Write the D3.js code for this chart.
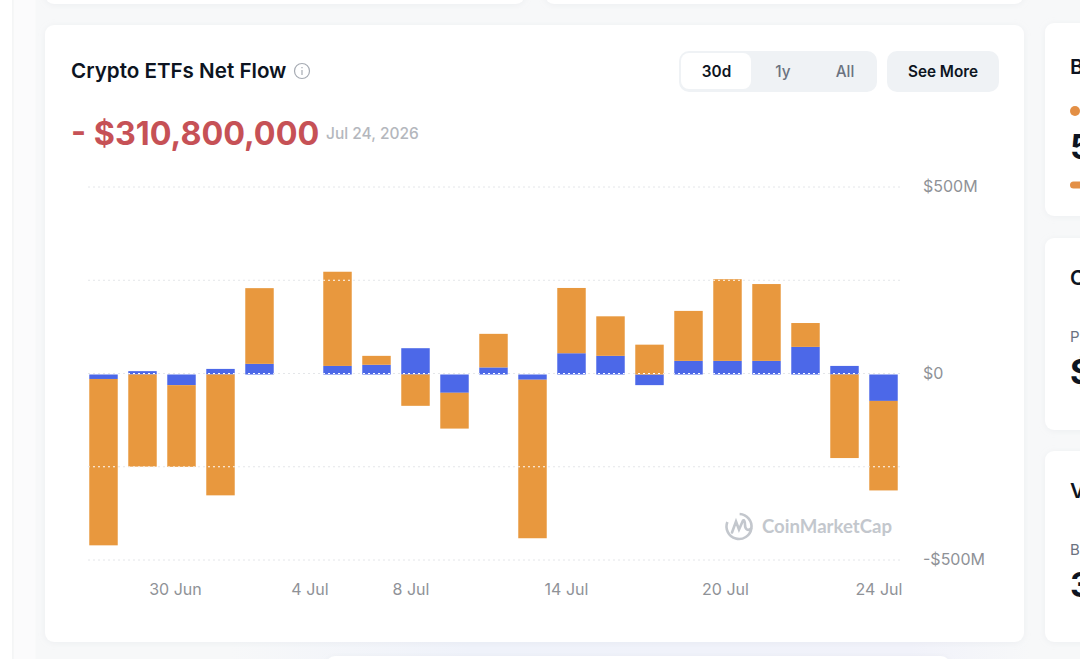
<!DOCTYPE html>
<html>
<head>
<meta charset="utf-8">
<script src="https://cdn.jsdelivr.net/npm/d3@7"></script>
<style>
  html, body { margin: 0; padding: 0; background: #f7f8f9; overflow: hidden; }
  svg { display: block; font-family: Inter, "Noto Sans", sans-serif; }
</style>
</head>
<body>
<svg id="page" width="1080" height="659"></svg>
<script>
// Trading days in the window, one slot per session (3 Jul has no reported flow)
const days = ["26 Jun","29 Jun","30 Jun","1 Jul","2 Jul","3 Jul","6 Jul","7 Jul","8 Jul","9 Jul","10 Jul",
              "13 Jul","14 Jul","15 Jul","16 Jul","17 Jul","20 Jul","21 Jul","22 Jul","23 Jul","24 Jul"];

// Net flow per fund family, in millions of dollars
const ethFlows = [-12, 9, -28.5, 15, 28.5, 0, 23, 26, 70.5, -49, 19, -14, 57, 50, -28.5, 36.5, 36.5, 36.5, 74, 23, -70.8];
const btcFlows = [-446, -247, -219, -324, 203, 0, 252.5, 24, -84, -96, 90, -425, 175, 106, 80, 134, 219, 206, 64, -224, -240];

const yTicks = [500, 250, 0, -250, -500];
const yTickLabels = ["$500M", "$0", "-$500M"];
const yLabelled = [500, 0, -500];
const xTickDays = ["30 Jun", "3 Jul", "8 Jul", "14 Jul", "20 Jul", "24 Jul"];
const xTickLabels = ["30 Jun", "4 Jul", "8 Jul", "14 Jul", "20 Jul", "24 Jul"];

const ORANGE = "#e8983e", BLUE = "#4c68e8", AXIS_GREY = "#8f9297";
const svg = d3.select("#page");

// Card shadows and the lavender wash under the main card
const defs = svg.append("defs");
const shadow = defs.append("filter").attr("id", "soft").attr("x", "-10%").attr("y", "-10%").attr("width", "120%").attr("height", "120%");
shadow.append("feDropShadow").attr("dx", 0).attr("dy", 1).attr("stdDeviation", 3).attr("flood-color", "#c8ccd4").attr("flood-opacity", 0.22);
const wash = defs.append("linearGradient").attr("id", "wash");
wash.append("stop").attr("offset", "0").attr("stop-color", "#f7f8f9");
wash.append("stop").attr("offset", "0.3").attr("stop-color", "#eff2fa");
wash.append("stop").attr("offset", "0.85").attr("stop-color", "#f1f2fa");
wash.append("stop").attr("offset", "1").attr("stop-color", "#f7f8f9");

// Page surround
svg.append("rect").attr("width", 13).attr("height", 659).attr("fill", "#fff");
svg.append("rect").attr("x", 12.5).attr("width", 1).attr("height", 659).attr("fill", "#e9ebee");
svg.append("rect").attr("x", 13.5).attr("width", 22).attr("height", 659).attr("fill", "#fbfbfc");
svg.append("rect").attr("x", 230).attr("y", 642).attr("width", 800).attr("height", 17).attr("fill", "url(#wash)");

const card = (x, y, w, h) => svg.append("rect")
  .attr("x", x).attr("y", y).attr("width", w).attr("height", h)
  .attr("rx", 9).attr("fill", "#fff").attr("filter", "url(#soft)");

card(45, -40, 480, 44);
card(545, -40, 479, 44);
card(45, 25, 979, 617);
card(1045, 23, 60, 193);
card(1045, 238, 60, 192);
card(1045, 451, 60, 191);
card(326, 656, 624, 30);

// Header
svg.append("text").attr("x", 71).attr("y", 77.5).attr("font-size", 20.6).attr("font-weight", 600)
  .attr("fill", "#0d1421").text("Crypto ETFs Net Flow");
const info = svg.append("g").attr("transform", "translate(302,71)").attr("stroke", "#a6abb3").attr("fill", "none");
info.append("circle").attr("r", 7.5).attr("stroke-width", 1.2);
info.append("line").attr("y1", -1).attr("y2", 4).attr("stroke-width", 1.2);
info.append("line").attr("y1", -4).attr("y2", -2.7).attr("stroke-width", 1.2);

svg.append("text").attr("x", 71).attr("y", 145).attr("font-size", 32.3).attr("font-weight", 700)
  .attr("fill", "#c65156").text("- $310,800,000");
svg.append("text").attr("x", 326).attr("y", 138.5).attr("font-size", 15.5).attr("font-weight", 500)
  .attr("fill", "#b4b7bd").text("Jul 24, 2026");

// Range switch and link button
svg.append("rect").attr("x", 679).attr("y", 51).attr("width", 198).attr("height", 41).attr("rx", 10).attr("fill", "#eff2f5");
svg.append("rect").attr("x", 681).attr("y", 53).attr("width", 70).attr("height", 36).attr("rx", 8).attr("fill", "#fff");
svg.append("rect").attr("x", 887).attr("y", 51).attr("width", 112).attr("height", 41).attr("rx", 10).attr("fill", "#eff2f5");
const buttons = [
  { label: "30d", x: 716.5, fill: "#0d1421", weight: 600 },
  { label: "1y", x: 783, fill: "#6b7280", weight: 500 },
  { label: "All", x: 845, fill: "#6b7280", weight: 500 },
  { label: "See More", x: 943, fill: "#0d1421", weight: 600 }
];
svg.selectAll("text.btn").data(buttons).join("text").attr("class", "btn")
  .attr("x", d => d.x).attr("y", 76.5).attr("text-anchor", "middle").attr("font-size", 15.3)
  .attr("font-weight", d => d.weight).attr("fill", d => d.fill).text(d => d.label);

// Scales
const x = d3.scaleBand().domain(days).range([84, 903]).paddingInner(0.27).paddingOuter(0.135);
const y = d3.scaleLinear().domain([-500, 500]).range([561, 188]);

// Grid runs one pixel above the bar baseline: pale on the card, white where it crosses a bar
const gridLayer = (stroke, clip) => svg.append("g").attr("clip-path", clip)
  .attr("transform", "translate(0,-1)")
  .selectAll("line").data(yTicks).join("line")
  .attr("x1", 88).attr("x2", 900)
  .attr("y1", d => y(d)).attr("y2", d => y(d))
  .attr("stroke", stroke)
  .attr("stroke-width", 1).attr("stroke-dasharray", "2 3");
gridLayer("#e4e6e9", null);

// Diverging stack: positive flows build upward from zero, negative ones downward
const rows = days.map((d, i) => ({ day: d, eth: ethFlows[i], btc: btcFlows[i] }));
const stacked = d3.stack().keys(["eth", "btc"]).offset(d3.stackOffsetDiverging)(rows);
const colour = d3.scaleOrdinal().domain(["eth", "btc"]).range([BLUE, ORANGE]);

const drawBars = (sel) => sel
  .attr("x", d => x(d.data.day))
  .attr("width", x.bandwidth())
  .attr("y", d => y(Math.max(d[0], d[1])))
  .attr("height", d => Math.abs(y(d[0]) - y(d[1])));

svg.append("g").selectAll("g").data(stacked).join("g").attr("fill", s => colour(s.key))
  .selectAll("rect").data(s => s).join("rect").call(drawBars);

// The same bar shapes mask the white grid pass, nudged to cancel the grid's offset
defs.append("clipPath").attr("id", "barShapes").attr("transform", "translate(0,1)")
  .selectAll("rect").data(stacked.flatMap(s => Array.from(s))).join("rect").call(drawBars);
gridLayer("#ffffff", "url(#barShapes)");

// Value axis labels on the right
const yAxis = d3.axisRight(y).tickValues(yLabelled).tickSize(0).tickPadding(0)
  .tickFormat((d, i) => yTickLabels[i]);
const yG = svg.append("g").attr("transform", "translate(923,-1.5)").call(yAxis);
yG.select(".domain").remove();
yG.selectAll("text").attr("font-family", "Inter").attr("font-size", 16).attr("fill", AXIS_GREY);

// Date axis labels; each is eased off its slot so the row reads evenly
const xNudge = { "30 Jun": -6, "3 Jul": 11.5, "8 Jul": -4.5, "14 Jul": -5, "20 Jul": -2, "24 Jul": -4.5 };
const xAxis = d3.axisBottom(x).tickValues(xTickDays).tickSize(0).tickPadding(0)
  .tickFormat((d, i) => xTickLabels[i]);
const xG = svg.append("g").attr("transform", "translate(0,583.5)").call(xAxis);
xG.select(".domain").remove();
xG.selectAll("text").attr("font-family", "Inter").attr("font-size", 16).attr("fill", AXIS_GREY)
  .attr("dx", d => xNudge[d]);

// Brand mark
const mark = svg.append("g").attr("transform", "translate(739,526.5)").attr("fill", "none")
  .attr("stroke", "#c3c7cd").attr("stroke-width", 2.6).attr("stroke-linecap", "round");
mark.append("path").attr("d", d3.arc()({ innerRadius: 12.5, outerRadius: 12.5, startAngle: 0.05, endAngle: 2 * Math.PI - 1.2 + 0 }));
mark.append("path").attr("d", "M-7,6 L-3,-5 L0,3 L4,-6 C5,-7 6,-5 6,-2 C6,3 9,5 12,2");
svg.append("text").attr("x", 762).attr("y", 533).attr("font-family", "Lato, Inter, sans-serif")
  .attr("font-size", 18.6).attr("font-weight", 700).attr("fill", "#c3c7cd").text("CoinMarketCap");

// Neighbouring panels, cut off by the page edge
const sideText = [
  { t: "B", y: 74, size: 20.5, weight: 600, fill: "#0d1421" },
  { t: "5", y: 159, size: 34, weight: 700, fill: "#0d1421" },
  { t: "C", y: 285, size: 20.5, weight: 600, fill: "#0d1421" },
  { t: "P", y: 341.5, size: 15, weight: 400, fill: "#6b7280" },
  { t: "$", y: 384, size: 34, weight: 700, fill: "#0d1421" },
  { t: "V", y: 498, size: 20.5, weight: 600, fill: "#0d1421" },
  { t: "B", y: 554.5, size: 15, weight: 400, fill: "#6b7280" },
  { t: "3", y: 597, size: 34, weight: 700, fill: "#0d1421" }
];
svg.selectAll("text.side").data(sideText).join("text").attr("class", "side")
  .attr("x", 1070).attr("y", d => d.y).attr("font-size", d => d.size)
  .attr("font-weight", d => d.weight).attr("fill", d => d.fill).text(d => d.t);
svg.append("circle").attr("cx", 1075).attr("cy", 111).attr("r", 5).attr("fill", "#e38f45");
svg.append("rect").attr("x", 1070).attr("y", 181.5).attr("width", 20).attr("height", 7).attr("rx", 3.5).attr("fill", "#e38f45");
</script>
</body>
</html>
